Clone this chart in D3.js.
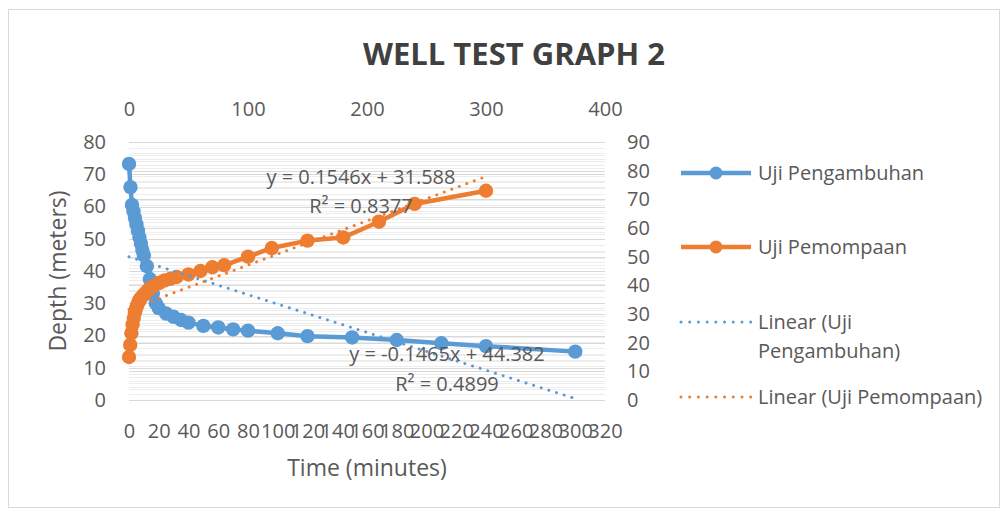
<!DOCTYPE html>
<html>
<head>
<meta charset="utf-8">
<script src="https://cdn.jsdelivr.net/npm/d3@7"></script>
<style>
  body { margin: 0; background: #fff; }
  text { font-family: "Open Sans", sans-serif; fill: #595959; }
</style>
</head>
<body>
<div id="chart"></div>
<script>
// time of each reading (minutes), shared by both tests
const minutes = [0, 1, 2, 3, 4, 5, 6, 7, 8, 9, 10, 12, 14, 16, 18, 20, 25, 30, 35, 40,
                 50, 60, 70, 80, 100, 120, 150, 180, 210, 240, 300];
// Uji Pengambuhan (recovery) - primary axes
const recoveryDepth = [73.2, 66, 60.5, 58.5, 56.5, 54.5, 52.5, 50.5, 48.5, 46.5, 44.8, 41.5, 37.5, 33, 30, 28.5,
                       26.8, 25.8, 24.8, 24, 23, 22.5, 21.9, 21.5, 20.7, 19.8, 19.4, 18.6, 17.6, 16.7, 15];
// Uji Pemompaan (pumping) - secondary axes
const pumpingDepth = [15, 19.2, 23.3, 26.3, 28.6, 30.5, 32, 33.2, 34.2, 35, 35.6, 36.6, 37.5, 38.3, 39, 39.6,
                      40.8, 41.7, 42.3, 42.9, 43.8, 45, 46.3, 47, 50, 53, 55.6, 56.7, 62.2, 68.4, 73];
// trendline coefficients as printed on the chart: [slope, intercept, R²]
const recoveryTrend = [-0.1465, 44.382, 0.4899];
const pumpingTrend = [0.1546, 31.588, 0.8377];

const bottomTicks = d3.range(0, 321, 20);
const topTicks = [0, 100, 200, 300, 400];
const leftTicks = d3.range(0, 81, 10);
const rightTicks = d3.range(0, 91, 10);
const legendNames = ["Uji Pengambuhan", "Uji Pemompaan", "Linear (Uji Pengambuhan)", "Linear (Uji Pemompaan)"];

const blue = "#5B9BD5", orange = "#ED7D31";
const W = 1008, H = 516;
const plot = {left: 129, right: 605, top: 142, bottom: 400};

const svg = d3.select("#chart").append("svg")
    .attr("width", W)
    .attr("height", H);

// chart border
svg.append("rect")
    .attr("x", 8.5).attr("y", 9.5)
    .attr("width", 991).attr("height", 498)
    .attr("fill", "none")
    .attr("stroke", "#D9D9D9");

// scales
const xBottom = d3.scaleLinear().domain([0, 320]).range([plot.left, plot.right]);
const xTop = d3.scaleLinear().domain([0, 400]).range([plot.left, plot.right]);
const yLeft = d3.scaleLinear().domain([0, 80]).range([plot.bottom, plot.top]);
const yRight = d3.scaleLinear().domain([0, 90]).range([plot.bottom, plot.top]);

// gridlines (major + minor for both vertical axes)
const grid = svg.append("g");
function gridLines(scale, values, color) {
    grid.selectAll(null)
        .data(values)
        .enter().append("line")
        .attr("x1", plot.left).attr("x2", plot.right)
        .attr("y1", d => Math.round(scale(d)) + 0.5)
        .attr("y2", d => Math.round(scale(d)) + 0.5)
        .attr("stroke", color)
        .attr("stroke-width", 1);
}
gridLines(yLeft, d3.range(0, 81, 2), "#EDEDED");
gridLines(yRight, d3.range(0, 91, 2), "#EDEDED");
gridLines(yLeft, leftTicks, "#D9D9D9");
gridLines(yRight, rightTicks, "#D9D9D9");

// axes
function styleAxis(g) {
    g.select(".domain").remove();
    g.selectAll("line").remove();
    g.selectAll("text")
        .style("font-family", "'Open Sans', sans-serif")
        .style("font-size", "20px")
        .attr("fill", "#595959");
}
svg.append("g")
    .attr("transform", "translate(0," + plot.bottom + ")")
    .call(d3.axisBottom(xBottom).tickValues(bottomTicks).tickSize(0).tickPadding(24))
    .call(styleAxis);
svg.append("g")
    .attr("transform", "translate(0," + plot.top + ")")
    .call(d3.axisTop(xTop).tickValues(topTicks).tickSize(0).tickPadding(26))
    .call(styleAxis);
svg.append("g")
    .attr("transform", "translate(" + plot.left + ",0)")
    .call(d3.axisLeft(yLeft).tickValues(leftTicks).tickSize(0).tickPadding(23))
    .call(styleAxis);
svg.append("g")
    .attr("transform", "translate(" + plot.right + ",0)")
    .call(d3.axisRight(yRight).tickValues(rightTicks).tickSize(0).tickPadding(22))
    .call(styleAxis);

// titles
svg.append("text")
    .attr("x", 514).attr("y", 65)
    .attr("text-anchor", "middle")
    .style("font-size", "31px")
    .style("font-weight", "bold")
    .attr("fill", "#404040")
    .style("fill", "#404040")
    .text("WELL TEST GRAPH 2");

svg.append("text")
    .attr("transform", "translate(66,271) rotate(-90)")
    .attr("text-anchor", "middle")
    .style("font-size", "23px")
    .text("Depth (meters)");

svg.append("text")
    .attr("x", 367).attr("y", 476)
    .attr("text-anchor", "middle")
    .style("font-size", "23px")
    .text("Time (minutes)");

// series
const recovery = minutes.map((m, i) => [m, recoveryDepth[i]]);
const pumping = minutes.map((m, i) => [m, pumpingDepth[i]]);

function drawSeries(data, xs, ys, color) {
    const g = svg.append("g");
    g.append("path")
        .datum(data)
        .attr("fill", "none")
        .attr("stroke", color)
        .attr("stroke-width", 4.5)
        .attr("stroke-linejoin", "round")
        .attr("d", d3.line().x(d => xs(d[0])).y(d => ys(d[1])));
    g.selectAll("circle")
        .data(data)
        .enter().append("circle")
        .attr("cx", d => xs(d[0]))
        .attr("cy", d => ys(d[1]))
        .attr("r", 7.2)
        .attr("fill", color);
}
drawSeries(recovery, xBottom, yLeft, blue);
drawSeries(pumping, xTop, yRight, orange);

function drawTrend(coef, xs, ys, color) {
    const ends = d3.extent(minutes).map(m => [m, coef[0] * m + coef[1]]);
    svg.append("path")
        .datum(ends)
        .attr("fill", "none")
        .attr("stroke", color)
        .attr("stroke-width", 3)
        .attr("stroke-linecap", "round")
        .attr("stroke-dasharray", "0.01 8")
        .attr("d", d3.line().x(d => xs(d[0])).y(d => ys(d[1])));
}
drawTrend(recoveryTrend, xBottom, yLeft, blue);
drawTrend(pumpingTrend, xTop, yRight, orange);

// trendline equations
function equation(coef, cx, y1, y2) {
    const sign = coef[1] >= 0 ? " + " : " - ";
    svg.append("text")
        .attr("x", cx).attr("y", y1)
        .attr("text-anchor", "middle")
        .style("font-size", "20px")
        .text("y = " + coef[0] + "x" + sign + Math.abs(coef[1]));
    svg.append("text")
        .attr("x", cx).attr("y", y2)
        .attr("text-anchor", "middle")
        .style("font-size", "20px")
        .text("R² = " + coef[2]);
}
equation(pumpingTrend, 361, 184, 213);
equation(recoveryTrend, 447, 361, 391);

// legend
const legend = svg.append("g");
const legendY = [173, 247, 322, 397];
const legendColor = [blue, orange, blue, orange];
legendNames.forEach((name, i) => {
    const y = legendY[i];
    const line = legend.append("line")
        .attr("x1", 681).attr("x2", 751)
        .attr("y1", y).attr("y2", y)
        .attr("stroke", legendColor[i]);
    if (i < 2) {
        line.attr("stroke-width", 4.5);
        legend.append("circle")
            .attr("cx", 716).attr("cy", y)
            .attr("r", 6.5)
            .attr("fill", legendColor[i]);
    } else {
        line.attr("stroke-width", 3)
            .attr("stroke-linecap", "round")
            .attr("stroke-dasharray", "0.01 8.7");
    }
    const t = legend.append("text")
        .attr("x", 758).attr("y", y + 7)
        .style("font-size", "20px");
    if (name === "Linear (Uji Pengambuhan)") {
        t.text("Linear (Uji");
        legend.append("text")
            .attr("x", 758).attr("y", y + 36)
            .style("font-size", "20px")
            .text("Pengambuhan)");
    } else {
        t.text(name);
    }
});
</script>
</body>
</html>
